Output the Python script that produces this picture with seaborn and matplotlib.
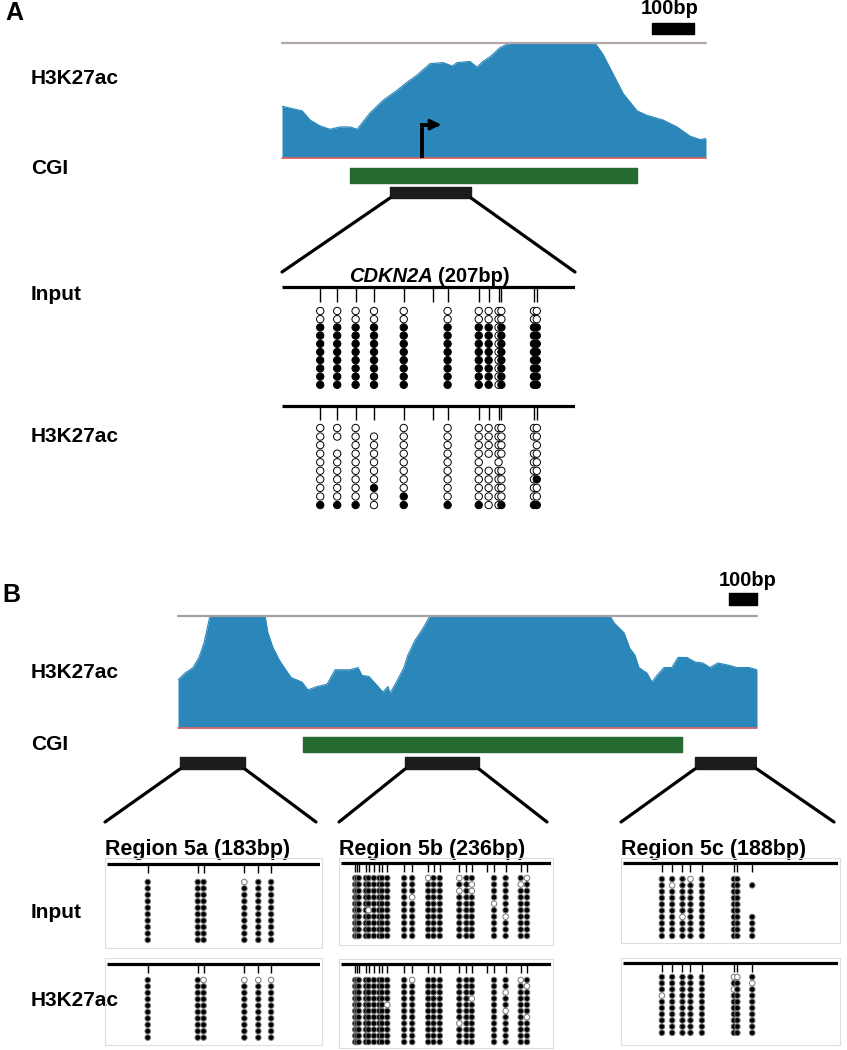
import pandas as pd
import matplotlib.pyplot as plt
import seaborn as sns
from matplotlib.patches import ConnectionPatch, Rectangle

sns.set_style("white")
plt.rcParams['font.family'] = ['Liberation Sans', 'DejaVu Sans']
plt.rcParams['text.color'] = 'black'

W, H = 847, 1050
BLUE = '#2b87b9'
GREEN = '#266a31'
BAR = '#1c1c1c'

# ---- panel A: H3K27ac coverage (bp from track start, fraction of track max)
cov_a_pos = [0, 48, 67, 90, 114, 138, 162, 179, 209, 240, 274, 298, 321, 352, 383, 405, 417,
             447, 464, 478, 495, 519, 536, 550, 745, 764, 788, 812, 845, 869, 907, 940, 971, 995, 1009]
cov_a_val = [0.45, 0.41, 0.33, 0.28, 0.25, 0.27, 0.27, 0.25, 0.39, 0.50, 0.59, 0.66, 0.72, 0.82, 0.83, 0.80, 0.83,
             0.84, 0.79, 0.84, 0.88, 0.96, 0.99, 1.0, 1.0, 0.90, 0.73, 0.56, 0.41, 0.37, 0.33, 0.27, 0.19, 0.16, 0.17]
track_a_len = 1009
cgi_a = (162, 845)
amp_a = [(257, 450)]
tss_a = 333

# CDKN2A amplicon (207bp): CpG positions and per-CpG calls over clones (1 meth, 0 unmeth, - none)
cpg_a = [27, 39, 52, 65, 86, 107, 117, 139, 146, 153, 155, 178, 180]
meth_a_input = ['0011111111', '0011111111', '0011111111', '0011111111', '0011111111', '----------',
                '0011111111', '0011111111', '0011111111', '0000000000', '0011111111', '0011111111', '0011111111']
meth_a_h3 = ['0000000001', '00-0000001', '0000000001', '-000000100', '0000000011', '----------',
             '0000000001', '0000000001', '0000-00000', '0000000000', '0000-00001', '00-0000001', '0000001001']

# ---- panel B
cov_b_pos = [0, 25, 54, 75, 93, 107, 114, 311, 321, 339, 361, 382, 404, 443, 464, 496, 532, 561, 614, 643,
             657, 682, 711, 732, 750, 757, 778, 807, 821, 846, 875, 900, 1543, 1557, 1593, 1614, 1632, 1646,
             1675, 1693, 1711, 1736, 1764, 1786, 1818, 1846, 1875, 1900, 1928, 1968, 1996, 2039, 2068]
cov_b_val = [0.43, 0.49, 0.54, 0.63, 0.76, 0.92, 1.0, 1.0, 0.85, 0.72, 0.61, 0.53, 0.45, 0.41, 0.34, 0.37, 0.39, 0.52, 0.52, 0.54,
             0.47, 0.46, 0.38, 0.32, 0.37, 0.31, 0.40, 0.54, 0.65, 0.78, 0.89, 1.0, 1.0, 0.94, 0.85, 0.71, 0.65, 0.54,
             0.49, 0.41, 0.47, 0.54, 0.54, 0.63, 0.63, 0.59, 0.58, 0.54, 0.58, 0.56, 0.54, 0.54, 0.52]
track_b_len = 2068
cgi_b = (446, 1800)
amps_b = [(7, 239), (811, 1075), (1846, 2068)]

region_names = ['Region 5a (183bp)', 'Region 5b (236bp)', 'Region 5c (188bp)']
region_len = [183, 236, 188]
cpg_5a = [35, 78, 83, 118, 130, 141]
cpg_5b = [16, 18, 20, 28, 31, 37, 43, 46, 52, 71, 80, 98, 104, 111, 133, 141, 147, 164, 172, 185, 202, 209]
cpg_5c = [34, 43, 52, 59, 69, 97, 100, 113]

meth_5a_input = ['1111111111', '1111111111', '1111111111', '0111111111', '1111111111', '1111111111']
meth_5a_h3 = ['1111111111', '1111111111', '0111111111', '0111111111', '0111111111', '0111111111']
meth_5b_input = ['1111111111', '1111111111', '1111111111', '1111111111', '1111101111', '1111111111',
                 '1111111111', '1111111111', '1111111111', '1111111111', '1110111111', '0111111111',
                 '1111111111', '1111111111', '0101111111', '1111111111', '1001111111', '----------',
                 '1111011111', '1111110111', '1011111111', '0111111111']
meth_5b_h3 = ['11111111111', '11111111111', '11111111111', '11111111111', '11111111111', '11111111111',
              '11111111111', '11111111111', '11110111111', '11111111111', '01111111111', '11111111111',
              '11111111111', '11111111111', '11111110111', '11111111111', '11101111111', '-----------',
              '11111111111', '11011011111', '01111111111', '10111101111']
meth_5c_input = ['1111111111', '1011111111', '1111110111', '0111111111', '1111111111', '1111111111',
                 '1111111111', '-1----1111']
meth_5c_h3 = ['1110111111', '1111111111', '1111111111', '1111111111', '1111111111', '0101111111',
              '0111111111', '1011111111']

fig = plt.figure(figsize=(W / 100, H / 100), dpi=100)
bg = fig.add_axes([0, 0, 1, 1])
bg.set_xlim(0, W)
bg.set_ylim(H, 0)
bg.axis('off')


def px_axes(x0, y0, x1, y1):
    ax = fig.add_axes([x0 / W, 1 - y1 / H, (x1 - x0) / W, (y1 - y0) / H])
    ax.axis('off')
    return ax


def coverage(box, pos, val, length, top_color):
    ax = px_axes(*box)
    ax.fill_between(pos, val, color=BLUE, lw=0)
    sns.lineplot(x=pos, y=val, color=BLUE, lw=0.8, ax=ax)
    ax.axhline(1, color=top_color, lw=1.6, clip_on=False)
    ax.axhline(0, color='#e8625c', lw=1.2, clip_on=False)
    ax.set_xlim(0, length)
    ax.set_ylim(0, 1)
    ax.axis('off')
    return ax


def features(box, length, cgi, amps, cgi_y, amp_y):
    ax = px_axes(*box)
    ax.set_xlim(0, length)
    ax.set_ylim(box[3], box[1])
    ax.broken_barh([(cgi[0], cgi[1] - cgi[0])], cgi_y, color=GREEN)
    ax.broken_barh([(a, b - a) for a, b in amps], amp_y, color=BAR)
    return ax


def lollipop(xs, ys, line_y, tick_y, row0, dr, length, cpgs, calls, size, edge, frame):
    ax = px_axes(xs[0], ys[0], xs[1], ys[1])
    row = lambda p: (p - row0) / dr
    ax.hlines(row(line_y), 0, length, color='black', lw=2.3)
    ax.vlines(cpgs, row(line_y), row(tick_y), color='black', lw=1.0)
    recs = [(p, i, c) for p, s in zip(cpgs, calls) for i, c in enumerate(s) if c != '-']
    df = pd.DataFrame(recs, columns=['pos', 'clone', 'state'])
    sns.scatterplot(data=df, x='pos', y='clone', hue='state', palette={'1': 'black', '0': 'white'},
                    edgecolor=edge, linewidth=0.7, s=size, legend=False, ax=ax, zorder=3, clip_on=False)
    ax.set_xlim(0, length)
    ax.set_ylim(row(ys[1]), row(ys[0]))
    ax.axis('off')
    if frame:
        ax.add_patch(Rectangle((-0.01, 0), 1.02, 1, transform=ax.transAxes, fill=False,
                               ec='#dddddd', lw=0.8, clip_on=False))
    return ax


def connect(ax_a, xy_a, xy_b):
    fig.add_artist(ConnectionPatch(xyA=xy_a, coordsA=ax_a.transData, xyB=xy_b,
                                   coordsB=bg.transData, color='black', lw=2.3))


lab = dict(fontsize=15, fontweight='bold', va='center', ha='left')

# ================= panel A =================
bg.text(5, 13, 'A', fontsize=18, fontweight='bold', va='center')
for txt, y in [('H3K27ac', 79), ('CGI', 168), ('Input', 295), ('H3K27ac', 437)]:
    bg.text(31, y, txt, **lab)

ca = coverage((282, 43, 706, 158), cov_a_pos, cov_a_val, track_a_len, '#b4a6a6')
ca.broken_barh([(881, 100)], (1.078, 0.095), color='black', clip_on=False)
bg.text(670, 8, '100bp', fontsize=14.5, fontweight='bold', ha='center', va='center')
# TSS arrow
ca.plot([tss_a, tss_a, tss_a + 36], [0, 0.29, 0.29], color='black', lw=2.8, solid_joinstyle='miter')
ca.annotate('', xy=(tss_a + 52, 0.29), xytext=(tss_a + 30, 0.29),
            arrowprops=dict(arrowstyle='-|>', color='black', lw=2.0, mutation_scale=16))

fa = features((282, 160, 706, 202), track_a_len, cgi_a, amp_a, (168, 15), (187, 11))
connect(fa, (amp_a[0][0], 198), (282, 272))
connect(fa, (amp_a[0][1], 198), (575, 272))
bg.text(433, 276, 'CDKN2A', fontsize=14.5, fontweight='bold', style='italic', ha='right', va='center')
bg.text(438, 276, '(207bp)', fontsize=14.5, fontweight='bold', ha='left', va='center')

lollipop((282, 575), (281, 392), 287, 302, 311, 8.2, 207, cpg_a, meth_a_input, 28, 'black', False)
lollipop((282, 575), (400, 512), 406, 420, 428, 8.56, 207, cpg_a, meth_a_h3, 28, 'black', False)

# ================= panel B =================
bg.text(2, 595, 'B', fontsize=18, fontweight='bold', va='center')
for txt, y in [('H3K27ac', 672), ('CGI', 744), ('Input', 913), ('H3K27ac', 1000)]:
    bg.text(31, y, txt, **lab)

cb = coverage((178, 616, 757, 728), cov_b_pos, cov_b_val, track_b_len, '#a0a0a0')
cb.broken_barh([(1968, 100)], (1.098, 0.107), color='black', clip_on=False)
bg.text(748, 581, '100bp', fontsize=14.5, fontweight='bold', ha='center', va='center')

fb = features((178, 733, 757, 772), track_b_len, cgi_b, amps_b, (737, 15), (757, 12))

line_x = [(107, 320), (341, 551), (623, 838)]
for (a, b), (x0, x1), name in zip(amps_b, line_x, region_names):
    connect(fb, (a, 769), (x0 - 2, 822))
    connect(fb, (b, 769), (x1 - 4, 822))
    bg.text(x0 - 2, 849, name, fontsize=15.5, fontweight='bold', ha='left', va='center')

lollipop(line_x[0], (858, 948), 864, 873, 882, 6.44, region_len[0], cpg_5a, meth_5a_input, 16, '#777777', True)
lollipop(line_x[0], (958, 1045), 964, 973, 980, 6.4, region_len[0], cpg_5a, meth_5a_h3, 16, '#777777', True)
lollipop(line_x[1], (858, 945), 863, 872, 878, 6.44, region_len[1], cpg_5b, meth_5b_input, 16, '#777777', True)
lollipop(line_x[1], (959, 1048), 964, 973, 980, 6.2, region_len[1], cpg_5b, meth_5b_h3, 16, '#777777', True)
lollipop(line_x[2], (858, 943), 863, 872, 879, 6.33, region_len[2], cpg_5c, meth_5c_input, 16, '#777777', True)
lollipop(line_x[2], (958, 1045), 963, 972, 977, 6.2, region_len[2], cpg_5c, meth_5c_h3, 16, '#777777', True)

fig.savefig('out.png', dpi=100)
